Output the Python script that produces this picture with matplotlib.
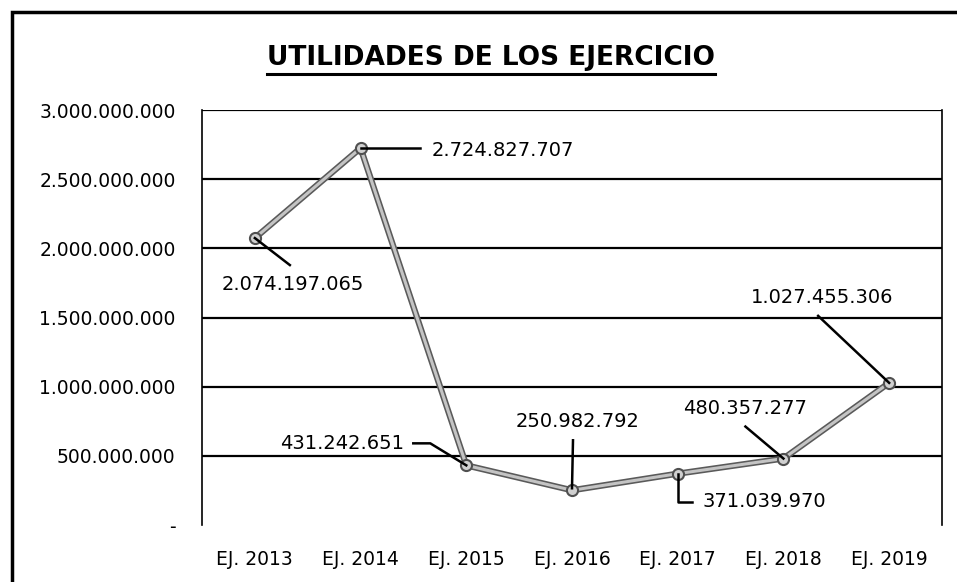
import matplotlib.pyplot as plt
import matplotlib.transforms as mtransforms
from matplotlib.patches import Rectangle
from matplotlib.lines import Line2D

years = ['EJ. 2013', 'EJ. 2014', 'EJ. 2015', 'EJ. 2016', 'EJ. 2017', 'EJ. 2018', 'EJ. 2019']
utilidades = [2074197065, 2724827707, 431242651, 250982792, 371039970, 480357277, 1027455306]
yticks = [0, 500000000, 1000000000, 1500000000, 2000000000, 2500000000, 3000000000]


def fmt(v):
    if v == 0:
        return '-'
    return f'{v:,}'.replace(',', '.')


plt.rcParams['font.family'] = ['DejaVu Sans']

fig = plt.figure(figsize=(9.57, 5.82), dpi=100)
ax = fig.add_axes([202 / 957, 1 - 525 / 582, 740 / 957, 415 / 582])

x = list(range(len(years)))
ax.plot(x, utilidades, color='#5a5a5a', lw=4.5, solid_capstyle='round', zorder=3)
ax.plot(x, utilidades, color='#c4c4c4', lw=2.2, zorder=4)
ax.plot(x, utilidades, 'o', ms=8, mfc='#d0d0d0', mec='#505050', mew=1.5, zorder=5)

ax.set_xlim(-0.5, len(years) - 0.5)
ax.set_ylim(0, 3000000000)
ax.set_yticks(yticks)
ax.set_yticklabels([fmt(v) for v in yticks], fontsize=13.5)
ax.set_xticks(x)
ax.set_xticklabels(years, fontsize=13.5)
ax.tick_params(axis='y', length=0, pad=19)
ax.tick_params(axis='x', length=0, pad=18)

for v in yticks[1:]:
    ax.axhline(v, color='black', lw=1.6, zorder=1)
for s in ['top', 'bottom']:
    ax.spines[s].set_visible(False)
for s in ['left', 'right']:
    ax.spines[s].set_linewidth(1.2)

# leader lines in pixel offsets from each point, text placement
leaders = [
    [(0, 0), (35, -27)],
    [(0, 0), (59, 0)],
    [(0, 0), (-36, 22), (-53, 22)],
    [(0, 2), (1, 50)],
    [(0, 0), (0, -28), (14, -28)],
    [(0, 0), (-38, 32)],
    [(0, 0), (-71, 67)],
]
text_pos = [(38, -46, 'center'), (71, -2, 'left'), (-62, 22, 'right'), (6, 69, 'center'),
            (25, -28, 'left'), (-38, 50, 'center'), (-67, 85, 'center')]

for i, v in enumerate(utilidades):
    tr = mtransforms.Affine2D() + mtransforms.ScaledTranslation(i, v, ax.transData)
    xs = [p[0] for p in leaders[i]]
    ys = [p[1] for p in leaders[i]]
    ax.add_line(Line2D(xs, ys, transform=tr, color='black', lw=1.8, zorder=6, clip_on=False))
    dx, dy, ha = text_pos[i]
    ax.annotate(fmt(v), xy=(i, v), xytext=(dx, dy), textcoords='offset pixels',
                ha=ha, va='center', fontsize=14, zorder=7)

title = fig.text(491 / 957, 1 - 58 / 582, 'UTILIDADES DE LOS EJERCICIO',
                 ha='center', va='center', fontsize=19, fontweight='bold')
fig.canvas.draw()
bb = title.get_window_extent()
fig.add_artist(Line2D([bb.x0, bb.x1], [bb.y0 - 3, bb.y0 - 3], transform=None, color='black', lw=2.2))

# outer frame of the scanned chart
fig.add_artist(Rectangle((12 / 957, -0.1), 1.2, 1 - 12 / 582 + 0.1, transform=fig.transFigure,
                         fill=False, edgecolor='black', lw=2.5))

fig.savefig('out.png', dpi=100)
